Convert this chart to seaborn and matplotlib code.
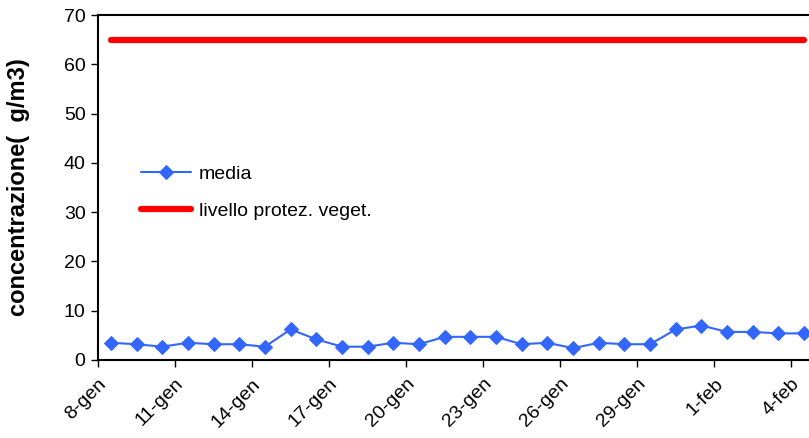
import matplotlib
matplotlib.use("Agg")
import matplotlib.pyplot as plt
import numpy as np
import pandas as pd
import seaborn as sns

# daily values, 8 gen -> 4 feb
days = [f"{d}-gen" for d in range(8, 32)] + [f"{d}-feb" for d in range(1, 5)]
media = [3.5, 3.2, 2.7, 3.5, 3.2, 3.2, 2.7, 6.2, 4.2, 2.7, 2.7, 3.5, 3.2, 4.7,
         4.7, 4.7, 3.2, 3.5, 2.4, 3.5, 3.2, 3.2, 6.2, 7.0, 5.7, 5.7, 5.4, 5.4]
livello = [65] * len(days)
tick_labels = ["8-gen", "11-gen", "14-gen", "17-gen", "20-gen",
               "23-gen", "26-gen", "29-gen", "1-feb", "4-feb"]

sns.set_style("white")
plt.rcParams["font.family"] = ["Liberation Sans", "DejaVu Sans"]
plt.rcParams["text.color"] = "black"
plt.rcParams["xtick.color"] = "black"
plt.rcParams["ytick.color"] = "black"
plt.rcParams["axes.labelcolor"] = "black"

df = pd.DataFrame({"giorno": np.arange(len(days)), "media": media,
                   "livello": livello})

fig = plt.figure(figsize=(8.09, 4.38), dpi=100)
# axes deliberately runs off the right edge, as in the original export
ax = fig.add_axes([98 / 809, 78 / 438, 719 / 809, 345 / 438])

sns.lineplot(data=df, x="giorno", y="media", ax=ax, color="#3366ff",
             linewidth=1.5, marker="D", markersize=7.5, markeredgecolor="#3366ff",
             label="media")
sns.lineplot(data=df, x="giorno", y="livello", ax=ax, color="#ff0000",
             linewidth=4.5, solid_capstyle="round",
             label="livello protez. veget.")

ax.set_xlim(-0.5, len(days) - 0.5)
ax.set_ylim(0, 70)
ax.set_yticks(range(0, 71, 10))
ax.set_xticks(np.arange(len(tick_labels)) * 3 - 0.5)
ax.set_xticklabels(tick_labels, rotation=45, ha="right",
                   rotation_mode="anchor")
ax.tick_params(axis="both", direction="out", length=5, width=1,
               labelsize=14, bottom=True, left=True)
ax.tick_params(axis="x", pad=6)
ax.tick_params(axis="y", pad=4)

for side in ["left", "bottom", "top", "right"]:
    ax.spines[side].set_color("black")
    ax.spines[side].set_linewidth(1.5)

ax.set_xlabel("")
ax.set_ylabel("concentrazione(  g/m3)", fontsize=17, fontweight="bold")
ax.yaxis.set_label_coords(-68 / 719, 0.5)

ax.legend(loc="upper left", bbox_to_anchor=(0.035, 0.615), frameon=False,
          fontsize=14, handlelength=2.6, labelspacing=1.0, handletextpad=0.4)

fig.savefig("out.png", dpi=100)
